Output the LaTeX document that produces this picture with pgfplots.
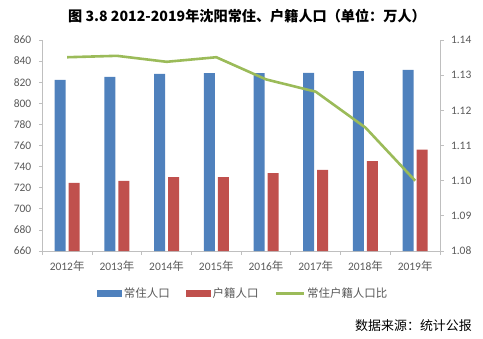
\documentclass[border=0pt]{standalone}
\usepackage{pgfplots}
\pgfplotsset{compat=1.18}
\usepackage{fontspec}
\setmainfont{Carlito}
\newfontfamily\cjk{Noto Sans CJK SC}
\definecolor{cblue}{HTML}{4F81BD}
\definecolor{cred}{HTML}{C0504D}
\definecolor{cgreen}{HTML}{9BBB59}
\definecolor{axgray}{HTML}{BFBFBF}
\definecolor{txgray}{HTML}{595959}
\pgfplotsset{
  common/.style={
    at={(42.3bp,87bp)}, anchor=south west, scale only axis,
    width=397.7bp, height=211bp, xmin=-0.5, xmax=7.5,
    axis line style={draw=axgray,line width=0.8bp,-},
    tick style={draw=axgray,line width=0.8bp},
    tick align=outside,
    ticklabel style={font=\fontsize{11.5}{12}\selectfont, text=txgray},
    /pgf/number format/assume math mode=true,
  }
}
\begin{document}
\begin{tikzpicture}[x=1bp,y=1bp]
\path[use as bounding box] (0,0) rectangle (483,338);
\begin{axis}[common,
  axis x line*=bottom, axis y line*=left,
  ymin=660, ymax=860, ytick={660,680,...,860},
  yticklabel style={xshift=-4bp},
  xtick={-0.5,0.5,...,7.5}, xticklabels={},
  major tick length=3.5bp,
  extra x ticks={0,...,7},
  extra x tick labels={2012{\cjk 年},2013{\cjk 年},2014{\cjk 年},2015{\cjk 年},2016{\cjk 年},2017{\cjk 年},2018{\cjk 年},2019{\cjk 年}},
  extra x tick style={major tick length=0pt, xticklabel style={yshift=-6bp}},
]
\addplot[ybar, fill=cblue, draw=none, bar width=11bp, bar shift=-7bp] coordinates {
(0,822.1) (1,825.0) (2,827.8) (3,828.7) (4,828.7) (5,828.9) (6,830.6) (7,831.6)};
\addplot[ybar, fill=cred, draw=none, bar width=11bp, bar shift=7bp] coordinates {
(0,724.5) (1,726.4) (2,730.1) (3,730.0) (4,733.9) (5,736.8) (6,745.3) (7,756.0)};
\end{axis}
\begin{axis}[common,
  axis x line=none, axis y line*=right,
  ymin=1.08, ymax=1.14, ytick={1.08,1.09,1.10,1.11,1.12,1.13,1.14},
  yticklabel style={xshift=4bp, /pgf/number format/.cd, fixed, fixed zerofill, precision=2},
  major tick length=3.5bp,
  legend style={draw=none, at={(0.505,-0.2)}, anchor=center, legend columns=3,
    font=\cjk\fontsize{11.5}{12}\selectfont, text=txgray,
    /tikz/every even column/.append style={column sep=14bp}},
  legend entries={常住人口,户籍人口,常住户籍人口比},
]
\addlegendimage{fill=cblue, draw=none, legend image code/.code={\fill (0bp,-3.5bp) rectangle (25bp,3.5bp);}}
\addlegendimage{fill=cred, draw=none, legend image code/.code={\fill (0bp,-3.5bp) rectangle (25bp,3.5bp);}}
\addplot[cgreen, line width=2.6bp, line join=round, legend image code/.code={\draw (0bp,0bp) -- (28bp,0bp);}] coordinates {
(0,1.1351) (1,1.1355) (2,1.1338) (3,1.1351) (4,1.1288) (5,1.1253) (6,1.1151) (7,1.1000)};
\end{axis}
\node[font=\cjk\bfseries\fontsize{14.2}{15}\selectfont] at (247,322) {图 3.8 2012-2019年沈阳常住、户籍人口（单位：万人）};
\node[font=\cjk\fontsize{13}{14}\selectfont, anchor=east, inner sep=0pt] at (472,12) {数据来源：统计公报};
\end{tikzpicture}
\end{document}
